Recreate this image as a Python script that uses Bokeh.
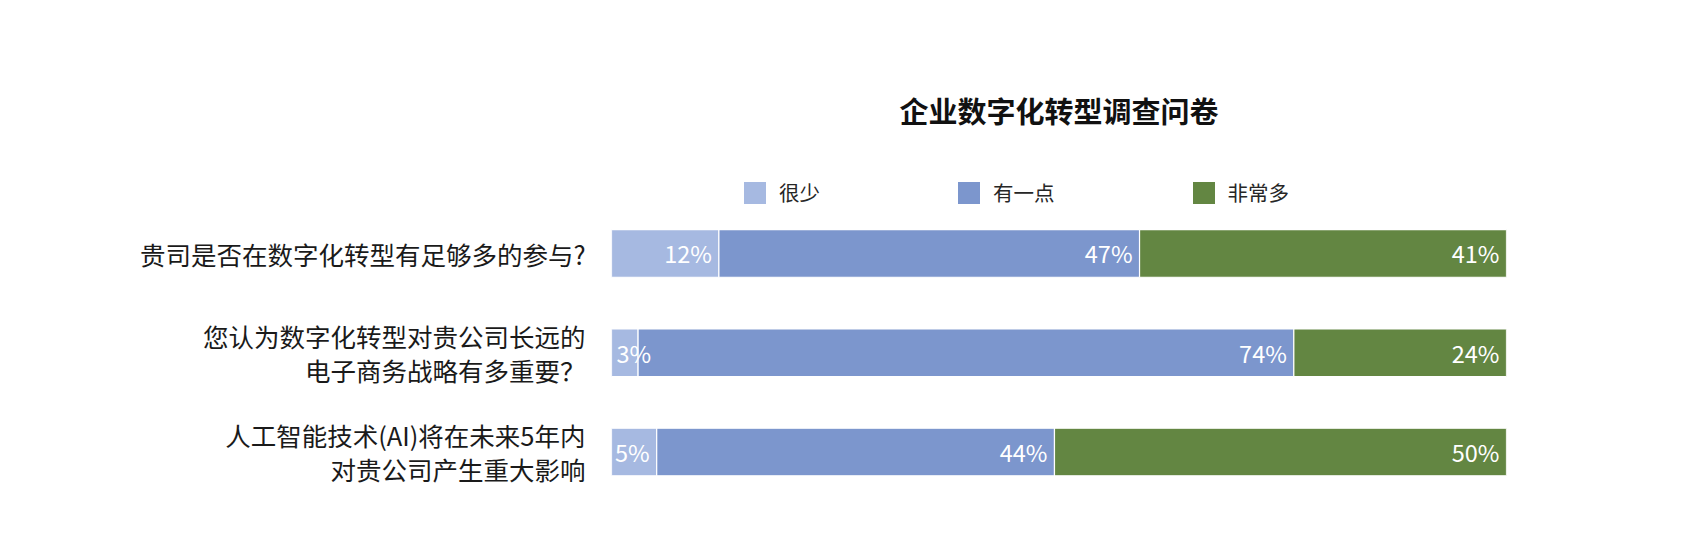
from bokeh.plotting import figure
from bokeh.models import ColumnDataSource, Range1d, Legend, LegendItem, FixedTicker
from bokeh.core.properties import value, field
from bokeh.embed import file_html
from bokeh.resources import INLINE

# ---- data ----
title_text = "企业数字化转型调查问卷"
categories = [
    "贵司是否在数字化转型有足够多的参与?",
    "您认为数字化转型对贵公司长远的\n电子商务战略有多重要？",
    "人工智能技术(AI)将在未来5年内\n对贵公司产生重大影响",
]
series_names = ["很少", "有一点", "非常多"]
few = [12, 3, 5]
some = [47, 74, 44]
much = [41, 24, 50]
colors = ["#A6B9E1", "#7C96CD", "#638642"]

FONT = "Noto Sans CJK SC"

series = [few, some, much]
ypos = list(range(len(categories)))
totals = [sum(vals) for vals in zip(*series)]
shares = [[v / t for v, t in zip(s, totals)] for s in series]

data = {"y": ypos}
for name, sh in zip(series_names, shares):
    data[name] = sh
source = ColumnDataSource(data)

p = figure(
    width=1666, height=536,
    x_range=Range1d(0, 1), y_range=Range1d(2.489, -0.937),
    x_axis_location=None, y_axis_location="left",
    output_backend="svg", toolbar_location=None,
    min_border_left=611, min_border_right=160,
    min_border_top=160, min_border_bottom=36,
)
p.outline_line_color = None
p.grid.visible = False
p.background_fill_color = "white"

renderers = p.hbar_stack(series_names, y="y", height=0.479, color=colors,
                         line_color="white", line_width=1.2, source=source)

# value labels
lx, ly, lt, la, lo = [], [], [], [], []
for vals, sh_list, k in zip(series, shares, range(len(series))):
    for i in range(len(categories)):
        start = sum(shares[j][i] for j in range(k))
        end = start + sh_list[i]
        ly.append(ypos[i])
        lt.append(f"{vals[i]}%")
        if sh_list[i] < 0.04:
            lx.append(start); la.append("left"); lo.append(5)
        else:
            lx.append(end); la.append("right"); lo.append(-7)
lab_src = ColumnDataSource(dict(x=lx, y=ly, t=lt, align=la, xo=lo))
p.text(x="x", y="y", text="t", source=lab_src, text_align=field("align"),
       x_offset=field("xo"), text_baseline="middle", text_color="white",
       text_font=value(FONT), text_font_size="23.5px")

# y axis labels
ax = p.yaxis[0]
ax.ticker = FixedTicker(ticks=ypos)
ax.major_label_overrides = {i: c for i, c in zip(ypos, categories)}
ax.axis_line_color = None
ax.major_tick_line_color = None
ax.minor_tick_line_color = None
ax.major_tick_out = 0
ax.major_tick_in = 0
ax.major_label_standoff = 26
ax.major_label_text_font = FONT
ax.major_label_text_font_size = "25.5px"
ax.major_label_text_color = "#1a1a1a"
ax.major_label_text_line_height = 0.92

# legend
legend = Legend(items=[LegendItem(label=n, renderers=[r]) for n, r in zip(series_names, renderers)],
                orientation="horizontal", location=(129, 293))
legend.border_line_color = None
legend.background_fill_alpha = 0
legend.padding = 0
legend.margin = 0
legend.spacing = 134
legend.glyph_width = 29
legend.glyph_height = 29
legend.label_height = 22
legend.label_standoff = 10
legend.label_text_font = FONT
legend.label_text_font_size = "20.5px"
legend.label_text_color = "#262626"
legend.label_text_baseline = "middle"
p.add_layout(legend)

# title
p.title.text = title_text
p.title.align = "center"
p.title.text_font = FONT
p.title.text_font_size = "29px"
p.title.text_font_style = "bold"
p.title.text_color = "#111111"
p.title.standoff = 60

open("out.html", "w").write(file_html(p, INLINE))
